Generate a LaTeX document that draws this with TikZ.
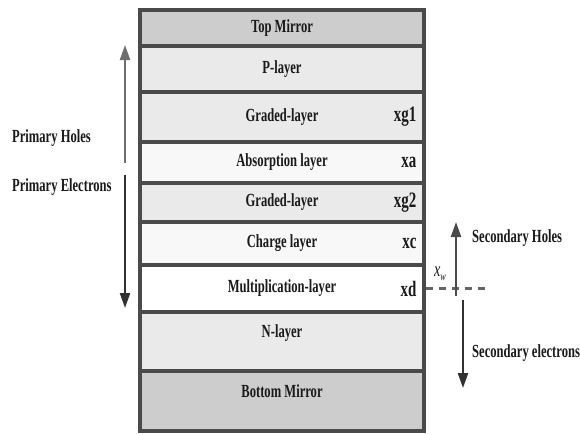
\documentclass[tikz,border=0pt]{standalone}
\usepackage{fontspec}
\setmainfont{Liberation Serif}[FakeStretch=0.68]
\usetikzlibrary{arrows.meta,positioning}
\definecolor{Frame}{HTML}{4A4A4A}
\definecolor{Mirror}{HTML}{CDCDCD}
\definecolor{Doped}{HTML}{EAEAEA}
\definecolor{Clear}{HTML}{F8F8F8}
\definecolor{Ink}{HTML}{1A1A1A}
\tikzset{
  layer/.style={draw=Frame, line width=3.2pt, minimum width=284pt, inner sep=0pt, font=\fontsize{18.5}{20}\selectfont\bfseries, text=Ink},
  tag/.style={font=\fontsize{22}{24}\selectfont\bfseries, text=Ink, inner sep=0pt},
  side/.style={font=\fontsize{18.5}{20}\selectfont\bfseries, text=Ink, inner sep=0pt, anchor=west},
  carrier/.style={-{Triangle[length=15pt,width=10pt]}, line width=2.2pt, draw=Frame},
  edge/.style={line width=2.6pt, draw=Frame!85, dash pattern=on 7pt off 6pt}
}
\begin{document}
\begin{tikzpicture}[x=1pt,y=-1pt]
\fill[white] (0,0) rectangle (580,434);
\node[layer, fill=Mirror, minimum height=36pt] (top) at (282,28) {Top Mirror};
\node[layer, fill=Doped, minimum height=46pt] (player) at (282,69) {P-layer};
\node[layer, fill=Doped, minimum height=50pt] (gradeA) at (282,117) {Graded-layer};
\node[layer, fill=Clear, minimum height=41pt] (absorb) at (282,162.5) {Absorption layer};
\node[layer, fill=Doped, minimum height=39pt] (gradeB) at (282,202.5) {Graded-layer};
\node[layer, fill=Clear, minimum height=43pt] (charge) at (282,243.5) {Charge layer};
\node[layer, fill=white, minimum height=47pt] (mult) at (282,288.5) {Multiplication-layer};
\node[layer, fill=Doped, minimum height=59pt, text depth=20pt] (nlayer) at (282,341.5) {N-layer};
\node[layer, fill=Mirror, minimum height=60pt, text depth=20pt] (bottom) at (282,401) {Bottom Mirror};
\node[tag, left=9pt of gradeA.east] (xgA) {xg1};
\node[tag, left=9pt of absorb.east] (xa) {xa};
\node[tag, left=9pt of gradeB.east] (xgB) {xg2};
\node[tag, left=9pt of charge.east] (xc) {xc};
\node[tag, left=9pt of mult.east] (xd) {xd};
\node[side] (pholes) at (12,138) {Primary Holes};
\node[side] (pelec) at (12,187) {Primary Electrons};
\coordinate (hfoot) at (125,163);
\coordinate (hhead) at (125,45);
\coordinate (efoot) at (125,175);
\coordinate (ehead) at (125,308);
\draw[carrier, draw=Frame!80] (hfoot) -- (hhead);
\draw[carrier, draw=Ink!90] (efoot) -- (ehead);
\coordinate (wend) at (488,288.5);
\draw[edge] (mult.east) -- (wend);
\node[font=\fontsize{21}{22}\selectfont\itshape, text=Ink, inner sep=0pt] (xw) at (440,274) {x\raisebox{-4pt}{\fontsize{12}{13}\selectfont w}};
\coordinate (shfoot) at (456,296);
\coordinate (shhead) at (456,222);
\coordinate (sefoot) at (463,300);
\coordinate (sehead) at (463,388);
\draw[carrier] (shfoot) -- (shhead);
\draw[carrier, draw=Ink!90] (sefoot) -- (sehead);
\node[side] (sholes) at (472,238) {Secondary Holes};
\node[side] (selec) at (472,353) {Secondary electrons};
\end{tikzpicture}
\end{document}
